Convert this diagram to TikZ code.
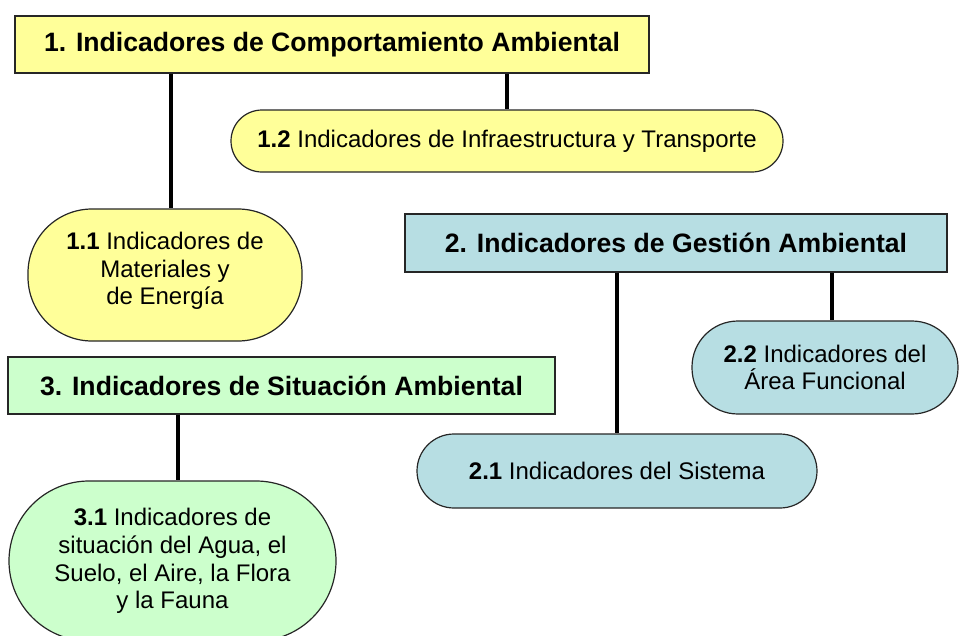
\documentclass[tikz,border=0pt]{standalone}
\usepackage{fontspec}
\setmainfont{Liberation Sans}
\definecolor{yel}{HTML}{FFFF99}
\definecolor{blu}{HTML}{B7DEE3}
\definecolor{grn}{HTML}{CCFFCC}
\begin{document}
\begin{tikzpicture}[x=1pt,y=-1pt,
  titlebox/.style={draw=black!85, line width=1.2pt, rectangle, inner sep=0pt,
    font=\fontsize{26.6}{30}\selectfont\bfseries},
  subbox/.style={draw=black!85, line width=1.2pt, rectangle, inner sep=0pt, align=center,
    font=\fontsize{24}{27.6}\selectfont},
  subtext/.style={inner sep=0pt, align=center, font=\fontsize{24}{27.6}\selectfont},
  conn/.style={line width=4.6pt, black}]
\useasboundingbox (0,0) rectangle (961,635);

\node[titlebox, fill=yel, minimum width=634pt, minimum height=57pt] (b1) at (332,44.5)
  {1. Indicadores de Comportamiento Ambiental};
\node[titlebox, fill=blu, minimum width=542pt, minimum height=58pt] (b2) at (676,243)
  {2. Indicadores de Gestión Ambiental};
\node[titlebox, fill=grn, minimum width=547pt, minimum height=57pt] (b3) at (281.5,385.5)
  {3. Indicadores de Situación Ambiental};

\node[subbox, fill=yel, rounded corners=31pt, minimum width=552pt, minimum height=62pt] (n12) at (507,141)
  {\textbf{1.2} Indicadores de Infraestructura y Transporte};
\node[subbox, fill=yel, rounded corners=64pt, minimum width=274pt, minimum height=132pt] (n11) at (165,275) {};
\node[subtext] (t11) at ([yshift=4pt]n11.center)
  {\textbf{1.1} Indicadores de\\Materiales y\\de Energía};
\node[subbox, fill=blu, rounded corners=46pt, minimum width=266pt, minimum height=93pt] (n22) at (825,367.5)
  {\textbf{2.2} Indicadores del\\Área Funcional};
\node[subbox, fill=blu, rounded corners=37pt, minimum width=400pt, minimum height=74pt] (n21) at (617,471)
  {\textbf{2.1} Indicadores del Sistema};
\node[subbox, fill=grn, rounded corners=80pt, minimum width=327pt, minimum height=160pt] (n31) at (172.5,561)
  {\textbf{3.1} Indicadores de\\situación del Agua, el\\Suelo, el Aire, la Flora\\y la Fauna};

\coordinate (k11) at (171,0);
\coordinate (k22) at (832,0);
\coordinate (k31) at (178,0);

\draw[conn] (b1.south -| k11) -- (n11.north -| k11);
\draw[conn] (b1.south -| n12.north) -- (n12.north);
\draw[conn] (b2.south -| n21.north) -- (n21.north);
\draw[conn] (b2.south -| k22) -- (n22.north -| k22);
\draw[conn] (b3.south -| k31) -- (n31.north -| k31);
\end{tikzpicture}
\end{document}
